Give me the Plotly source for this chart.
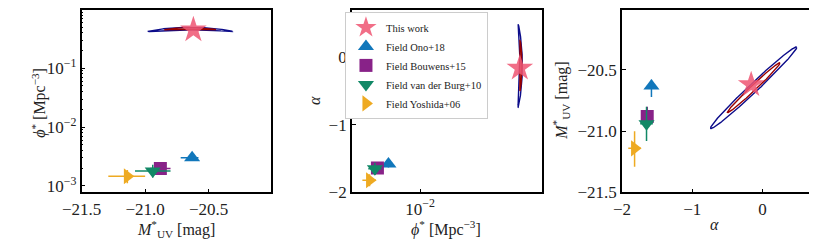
import numpy as np
import plotly.graph_objects as go

# ---------------- data ----------------
# This work (best fit)
this_M = -20.62
this_phi = 0.45
this_alpha = -0.16

# posterior summary used for contours (center, widths, correlation, curvature)
post_M0 = -20.645
post_sM = 0.134
post_A0 = -0.125
post_sA = 0.247
post_rho_MA = 0.989
post_logphi0 = -0.325
post_s_logphi = 0.008
post_k_logphi = 0.008
contour_levels = [6.18, 2.30]   # delta chi^2 for 2 sigma (outer) and 1 sigma (inner)
contour_colors = ["#0c0c8a", "#990000"]

# literature (field, z~4)
lit_names = ["Field Ono+18", "Field Bouwens+15", "Field van der Burg+10", "Field Yoshida+06"]
lit_M = [-20.63, -20.88, -20.94, -21.14]
lit_M_hi = [0.05, 0.08, 0.14, 0.14]
lit_M_lo = [0.09, 0.08, 0.14, 0.15]
lit_phi = [3.0e-3, 1.97e-3, 1.79e-3, 1.46e-3]
lit_phi_hi = [0.20e-3, 0.34e-3, 0.51e-3, 0.41e-3]
lit_phi_lo = [0.20e-3, 0.29e-3, 0.40e-3, 0.35e-3]
lit_alpha = [-1.58, -1.64, -1.65, -1.82]
lit_alpha_err = [0.05, 0.04, 0.09, 0.09]
lit_symbols = ["triangle-up", "square", "triangle-down", "triangle-right"]
lit_sizes = [14, 13, 14, 14]
lit_colors = ["#1177bb", "#882288", "#118866", "#eeaa22"]

star_color = "#ee5572"

# ---------------- figure ----------------
OFF = 8                      # page body margin
W, H = 817 - OFF, 248 - OFF
FONT = "Liberation Serif, Times New Roman, serif"

def clamp(v):
    return min(1.0, max(0.0, v))

def px_x(a, b):
    return [clamp((a - OFF) / W), clamp((b - OFF) / W)]

def px_y(top, bottom):
    return [clamp(1 - (bottom - OFF) / H), clamp(1 - (top - OFF) / H)]

fig = go.Figure()

t = np.linspace(0, 2 * np.pi, 400)

for lvl, col in zip(contour_levels, contour_colors):
    r = np.sqrt(lvl)
    c, s = np.cos(t), np.sin(t)
    # panel 1: M vs phi
    m = r * c
    u = r * s
    M1 = post_M0 + post_sM * m
    phi1 = 10 ** (post_logphi0 + post_s_logphi * u - post_k_logphi * m ** 2)
    fig.add_trace(go.Scatter(x=M1, y=phi1, mode="lines", line=dict(color=col, width=1.4),
                             showlegend=False, hoverinfo="skip", xaxis="x", yaxis="y"))
    # panel 2: phi vs alpha
    a = r * c
    A2 = post_A0 + post_sA * a
    phi2 = 10 ** (post_logphi0 + post_s_logphi * u - post_k_logphi * a ** 2)
    fig.add_trace(go.Scatter(x=phi2, y=A2, mode="lines", line=dict(color=col, width=1.4),
                             showlegend=False, hoverinfo="skip", xaxis="x2", yaxis="y2"))
    # panel 3: alpha vs M
    a3 = r * c
    m3 = r * (post_rho_MA * c + np.sqrt(1 - post_rho_MA ** 2) * s)
    fig.add_trace(go.Scatter(x=post_A0 + post_sA * a3, y=post_M0 + post_sM * m3, mode="lines",
                             line=dict(color=col, width=1.4),
                             showlegend=False, hoverinfo="skip", xaxis="x3", yaxis="y3"))

# literature points
for i, name in enumerate(lit_names):
    mk = dict(symbol=lit_symbols[i], size=lit_sizes[i], color=lit_colors[i], line=dict(width=0))
    ex_M = dict(type="data", array=[lit_M_hi[i]], arrayminus=[lit_M_lo[i]], color=lit_colors[i], thickness=1.5, width=0)
    ey_phi = dict(type="data", array=[lit_phi_hi[i]], arrayminus=[lit_phi_lo[i]], color=lit_colors[i], thickness=1.5, width=0)
    e_alpha = dict(type="data", array=[lit_alpha_err[i]], color=lit_colors[i], thickness=1.5, width=0)
    fig.add_trace(go.Scatter(x=[lit_M[i]], y=[lit_phi[i]], mode="markers", marker=mk,
                             error_x=ex_M, error_y=ey_phi, showlegend=False, xaxis="x", yaxis="y"))
    fig.add_trace(go.Scatter(x=[lit_phi[i]], y=[lit_alpha[i]], mode="markers", marker=mk, name=name,
                             error_x=ey_phi, error_y=e_alpha, showlegend=True, xaxis="x2", yaxis="y2"))
    fig.add_trace(go.Scatter(x=[lit_alpha[i]], y=[lit_M[i]], mode="markers", marker=mk,
                             error_x=e_alpha, error_y=ex_M, showlegend=False, xaxis="x3", yaxis="y3"))

star_mk = dict(symbol="star", size=20, color=star_color, opacity=0.85, line=dict(width=0))
fig.add_trace(go.Scatter(x=[this_M], y=[this_phi], mode="markers", marker=star_mk, showlegend=False, xaxis="x", yaxis="y"))
fig.add_trace(go.Scatter(x=[this_phi], y=[this_alpha], mode="markers", marker=star_mk, name="This work",
                         showlegend=True, legendrank=1, xaxis="x2", yaxis="y2"))
fig.add_trace(go.Scatter(x=[this_alpha], y=[this_M], mode="markers", marker=star_mk, showlegend=False, xaxis="x3", yaxis="y3"))

axis_common = dict(showline=True, linecolor="black", linewidth=1.5, mirror=True, ticks="inside",
                   ticklen=4, tickwidth=1, tickcolor="black", showgrid=False, zeroline=False,
                   tickfont=dict(family=FONT, size=17, color="#222"))

ydom = px_y(6, 200)
fig.update_layout(
    width=W, height=H, margin=dict(l=0, r=0, t=0, b=0),
    paper_bgcolor="white", plot_bgcolor="white",
    font=dict(family=FONT, color="#222"),
    xaxis=dict(domain=px_x(63, 257), range=[-21.5, -20.01], tickvals=[-21.5, -21.0, -20.5],
               ticktext=["\u221221.5", "\u221221.0", "\u221220.5"], anchor="y", **axis_common),
    yaxis=dict(domain=ydom, type="log", range=[-3.11, -0.01], tickvals=[1e-3, 1e-2, 1e-1],
               ticktext=["10<sup>\u22123</sup>", "10<sup>\u22122</sup>", "10<sup>\u22121</sup>"],
               minor=dict(ticks="inside", ticklen=2, tickcolor="black",
                          tickvals=[k * 10.0 ** e for e in (-3, -2, -1) for k in range(2, 10)]),
               anchor="x", **axis_common),
    xaxis2=dict(domain=px_x(340, 535), type="log", range=[-3.13, 0.02], tickvals=[1e-2],
                ticktext=["10<sup>\u22122</sup>"], anchor="y2", **axis_common),
    yaxis2=dict(domain=ydom, range=[-2.0, 0.7], tickvals=[-2, -1, 0],
                ticktext=["\u22122", "\u22121", "0"], anchor="x2", **axis_common),
    xaxis3=dict(domain=px_x(617, 810), range=[-2.0, 0.68], tickvals=[-2, -1, 0],
                ticktext=["\u22122", "\u22121", "0"], anchor="y3", **axis_common),
    yaxis3=dict(domain=ydom, range=[-21.5, -20.01], tickvals=[-21.5, -21.0, -20.5],
                ticktext=["\u221221.5", "\u221221.0", "\u221220.5"], anchor="x3", **axis_common),
    legend=dict(x=(333 - OFF) / W, y=clamp(1 - (10 - OFF) / H), xanchor="left", yanchor="top", bgcolor="white",
                bordercolor="#cccccc", borderwidth=1, font=dict(family=FONT, size=10.5, color="#222"),
                traceorder="normal", itemsizing="trace", itemwidth=30, tracegroupgap=0),
)

# axis titles
title_font = dict(family=FONT, size=16, color="#222")
def ann(x, y, text, angle=0):
    fig.add_annotation(x=(x - OFF) / W, y=1 - (y - OFF) / H, xref="paper", yref="paper", text=text,
                       showarrow=False, textangle=angle, font=title_font, xanchor="center", yanchor="middle")

ann(160, 238, "<i>M</i><sup>*</sup><sub>UV</sub> [mag]")
ann(19, 106, "<i>\u03d5</i><sup>*</sup> [Mpc<sup>\u22123</sup>]", -90)
ann(437, 238, "<i>\u03d5</i><sup>*</sup> [Mpc<sup>\u22123</sup>]")
ann(302, 103, "<i>\u03b1</i>", -90)
ann(712, 234, "<i>\u03b1</i>")
ann(555, 103, "<i>M</i><sup>*</sup><sub>UV</sub> [mag]", -90)

fig.write_html("out.html")
